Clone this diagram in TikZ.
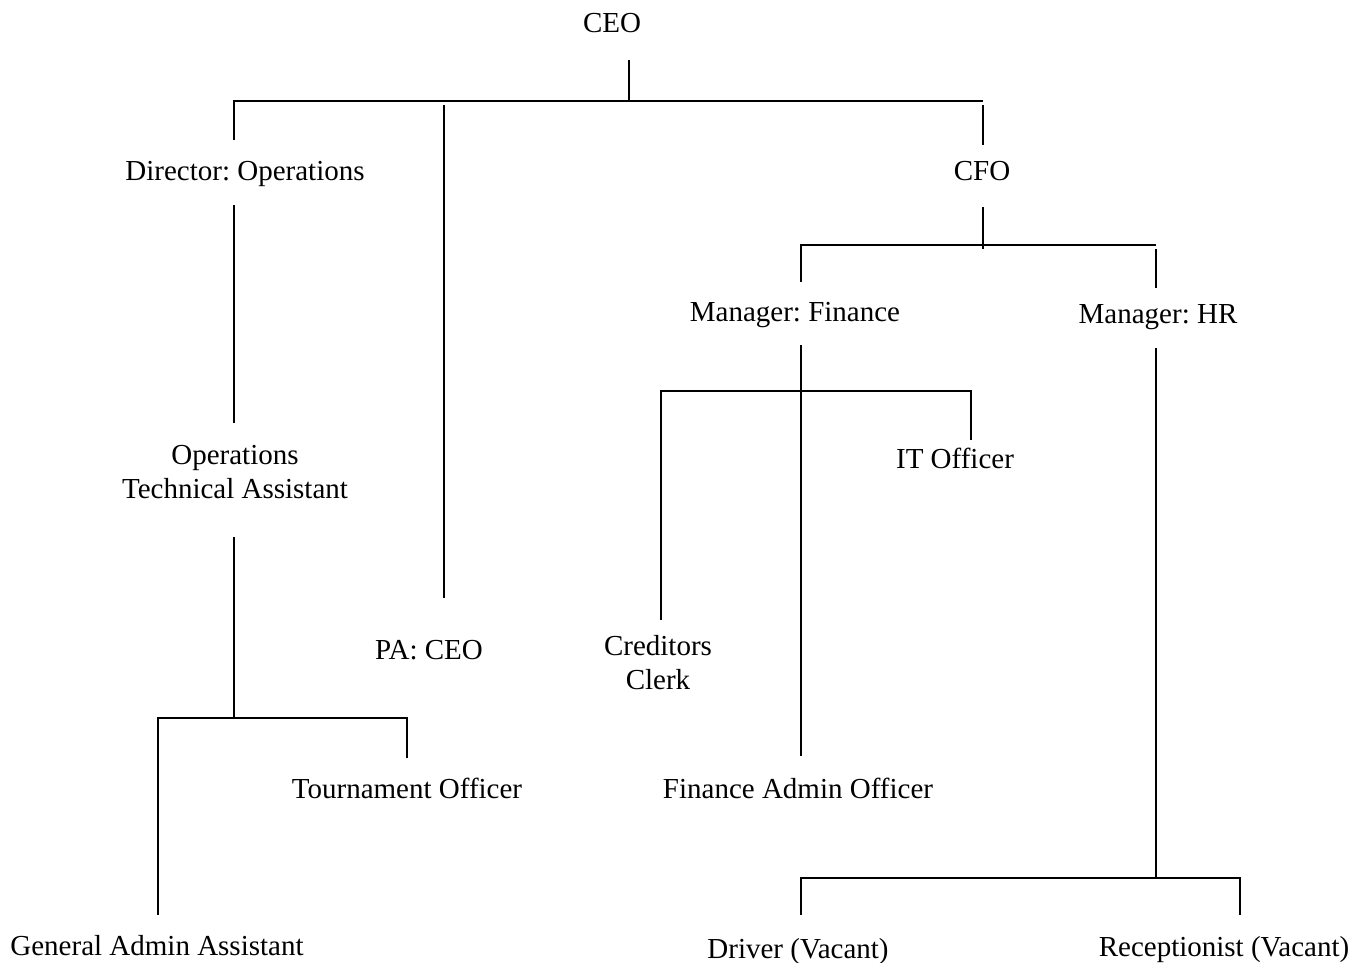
\documentclass[tikz,border=0pt]{standalone}
\usepackage{fontspec}
\setmainfont{Liberation Serif}
\begin{document}
\frenchspacing
\begin{tikzpicture}[x=1pt,y=-1pt,
  role/.style={font=\fontsize{29}{34}\selectfont\frenchspacing, inner sep=0pt, align=center},
  link/.style={line width=1.8pt, line cap=butt, line join=miter}]
\useasboundingbox (0,0) rectangle (1371,962);

% positions
\node[role,anchor=base] (ceo)    at (612,32)  {CEO};
\node[role,anchor=base] (dirops) at (245,180) {Director: Operations};
\node[role,anchor=base] (cfo)    at (982,180) {CFO};
\node[role,anchor=base] (mfin)   at (795,321) {Manager: Finance};
\node[role,anchor=base] (mhr)    at (1158,323) {Manager: HR};
\node[role]             (ota)    at (235,472) {Operations\\Technical Assistant};
\node[role,anchor=base] (it)     at (955,468) {IT Officer};
\node[role,anchor=base] (pa)     at (429,659) {PA: CEO};
\node[role]             (cred)   at (658,663) {Creditors\\Clerk};
\node[role,anchor=base] (tour)   at (407,798) {Tournament Officer};
\node[role,anchor=base] (fao)    at (798,798) {Finance Admin Officer};
\node[role,anchor=base] (gaa)    at (157,955) {General Admin Assistant};
\node[role,anchor=base] (drv)    at (798,958) {Driver (Vacant)};
\node[role,anchor=base] (rec)    at (1224,956) {Receptionist (Vacant)};

% line ends next to each title
\coordinate (ceo-out)   at (629,60);
\coordinate (dir-in)    at (234,140);
\coordinate (dir-out)   at (234,205);
\coordinate (pa-top)    at (444,105);
\coordinate (pa-in)     at (444,598);
\coordinate (cfo-top)   at (983,105);
\coordinate (cfo-in)    at (983,145);
\coordinate (cfo-out)   at (983,207);
\coordinate (mfin-in)   at (801,282);
\coordinate (mhr-top)   at (1156,249);
\coordinate (mhr-in)    at (1156,288);
\coordinate (mfin-out)  at (801,345);
\coordinate (fao-in)    at (801,756);
\coordinate (cred-in)   at (661,620);
\coordinate (it-in)     at (971,440);
\coordinate (ota-in)    at (234,423);
\coordinate (ota-out)   at (234,537);
\coordinate (gaa-in)    at (158,915);
\coordinate (tour-in)   at (407,758);
\coordinate (mhr-out)   at (1156,348);
\coordinate (drv-in)    at (801,915);
\coordinate (rec-in)    at (1240,915);

% junction rails
\coordinate (ceo-rail)  at (629,101);
\coordinate (cfo-rail)  at (983,249);
\coordinate (fin-rail)  at (801,391);
\coordinate (ops-rail)  at (234,718);
\coordinate (hr-rail)   at (1156,878);

% CEO level
\draw[link] (ceo-out) -- (ceo-rail);
\draw[link] (dir-in) |- (ceo-rail) -- (983,101);
\draw[link] (pa-top) -- (pa-in);
\draw[link] (cfo-top) -- (cfo-in);

% CFO branch
\draw[link] (cfo-out) -- (cfo-rail);
\draw[link] (mfin-in) |- (1156,245);
\draw[link] (mhr-top) -- (mhr-in);

% Finance branch
\draw[link] (mfin-out) -- (fao-in);
\draw[link] (cred-in) |- (fin-rail) -| (it-in);

% Operations branch
\draw[link] (dir-out) -- (ota-in);
\draw[link] (ota-out) -- (ops-rail);
\draw[link] (gaa-in) |- (ops-rail) -| (tour-in);

% HR branch
\draw[link] (mhr-out) -- (hr-rail);
\draw[link] (drv-in) |- (hr-rail) -| (rec-in);
\end{tikzpicture}
\end{document}
